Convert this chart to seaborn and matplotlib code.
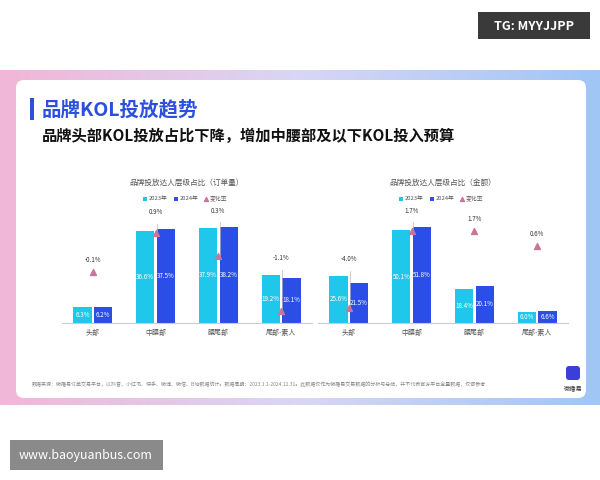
import numpy as np
import pandas as pd
import matplotlib.pyplot as plt
import seaborn as sns
from matplotlib.patches import FancyBboxPatch, Rectangle

plt.rcParams["font.family"] = ["Noto Sans CJK SC", "DejaVu Sans"]

tiers = ["头部", "中腰部", "腰尾部", "尾部-素人"]
years = ["2023年", "2024年"]
orders_2023 = [6.3, 36.6, 37.9, 19.2]
orders_2024 = [6.2, 37.5, 38.2, 18.1]
orders_change = [-0.1, 0.9, 0.3, -1.1]
amount_2023 = [25.6, 50.1, 18.4, 6.0]
amount_2024 = [21.5, 51.8, 20.1, 6.6]
amount_change = [-4.0, 1.7, 1.7, 0.6]

C23, C24, CTRI = "#1fc8ea", "#2b4ee6", "#c9759a"

fig = plt.figure(figsize=(6, 4.8), dpi=100)
bg = fig.add_axes([0, 0, 1, 1])
bg.set_xlim(0, 600); bg.set_ylim(480, 0); bg.axis("off")
grad = np.linspace(0, 1, 256).reshape(1, -1)
bg.imshow(grad, extent=[0, 600, 405, 70], cmap=sns.blend_palette(["#f2b6d8", "#d9d6f5", "#9fc6f5"], as_cmap=True), aspect="auto")
bg.add_patch(FancyBboxPatch((16, 80), 570, 318, boxstyle="round,pad=0,rounding_size=8", fc="white", ec="none"))
bg.add_patch(Rectangle((478, 12), 112, 27, fc="#3a3a3a"))
bg.text(534, 26, "TG: MYYJJPP", color="white", fontsize=9, ha="center", va="center", fontweight="bold")
bg.add_patch(Rectangle((10, 440), 153, 30, fc="#8a8a8a"))
bg.text(86, 456, "www.baoyuanbus.com", color="white", fontsize=9, ha="center", va="center")
bg.add_patch(Rectangle((30, 98), 4, 22, fc="#2c4fe0"))
bg.text(42, 110, "品牌KOL投放趋势", color="#2c4fe0", fontsize=14, fontweight="bold", va="center")
bg.text(42, 136, "品牌头部KOL投放占比下降，增加中腰部及以下KOL投入预算", color="#111111", fontsize=11, fontweight="bold", va="center")
bg.text(32, 384, "数据来源：微播易订单交易平台，以抖音、小红书、快手、微博、微信、B站数据统计。数据周期：2023.1.1-2024.12.31。此数据仅作为微播易交易数据的分析与总结，并不代表官方平台全量数据，仅做参考",
        fontsize=3.6, color="#888888", va="center")
bg.add_patch(FancyBboxPatch((566, 366), 14, 14, boxstyle="round,pad=0,rounding_size=3", fc="#3b3fd8", ec="none"))
bg.text(573, 390, "微播易", fontsize=4.5, color="#333333", ha="center")


def panel(left, width, title, v23, v24, chg, ymax, tlim):
    ax = fig.add_axes([left / 600, 1 - 323 / 480, width / 600, 118 / 480])
    df = pd.DataFrame({"tier": tiers * 2, "year": [years[0]] * 4 + [years[1]] * 4, "value": v23 + v24})
    sns.barplot(data=df, x="tier", y="value", hue="year", palette=[C23, C24], ax=ax,
                width=0.66, gap=0.12, legend=False, saturation=1)
    for cont in ax.containers:
        for bar in cont:
            h = bar.get_height()
            ax.text(bar.get_x() + bar.get_width() / 2, h / 2, f"{h:.1f}%", ha="center", va="center",
                    color="white", fontsize=4.5)
    ax.set_ylim(0, ymax)
    ax.set_xlabel(""); ax.set_ylabel("")
    ax.set_yticks([])
    ax.tick_params(axis="x", length=0, labelsize=5, labelcolor="#555555", pad=4)
    for s in ["top", "right", "left"]:
        ax.spines[s].set_visible(False)
    ax.spines["bottom"].set_color("#cccccc")
    ax.patch.set_alpha(0)
    tx = ax.twinx()
    tx.scatter(range(4), chg, marker="^", color=CTRI, s=18, zorder=5)
    span = tlim[1] - tlim[0]
    for i, c in enumerate(chg):
        top = tlim[0] + max(v23[i], v24[i]) / ymax * span
        ly = c
        if top > c:
            ly = top + 0.04 * span
            tx.plot([i + 0.02, i + 0.02], [c, ly], color="#bbbbbb", lw=0.5)
        tx.annotate(f"{c:.1f}%", (i, ly), xytext=(0, 7), textcoords="offset points", ha="center",
                    fontsize=4.5, color="#333333")
    tx.set_ylim(*tlim)
    tx.axis("off")
    cx = left + width / 2
    bg.text(cx, 183, title, ha="center", va="center", fontsize=5.5, color="#555555")
    bg.add_patch(Rectangle((cx - 44, 197), 4, 4, fc=C23))
    bg.text(cx - 38, 199, years[0], fontsize=4.2, va="center", color="#555555")
    bg.add_patch(Rectangle((cx - 13, 197), 4, 4, fc=C24))
    bg.text(cx - 7, 199, years[1], fontsize=4.2, va="center", color="#555555")
    bg.scatter([cx + 19], [199], marker="^", color=CTRI, s=8)
    bg.text(cx + 23, 199, "变化率", fontsize=4.2, va="center", color="#555555")


panel(62, 250, "品牌投放达人层级占比（订单量）", orders_2023, orders_2024, orders_change, 47, (-1.41, 1.62))
panel(318, 250, "品牌投放达人层级占比（金额）", amount_2023, amount_2024, amount_change, 63.7, (-5.07, 3.6))

fig.savefig("out.png", dpi=100)
